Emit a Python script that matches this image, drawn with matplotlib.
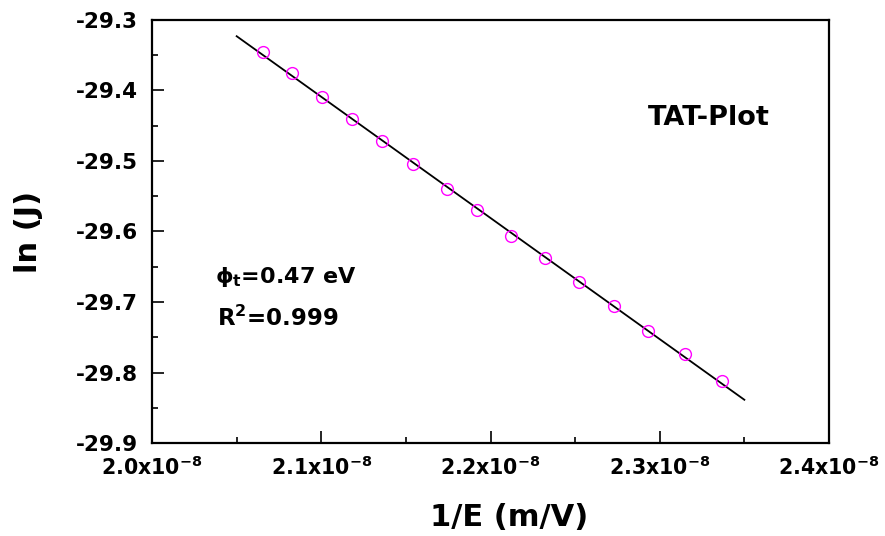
import numpy as np
import matplotlib.pyplot as plt
from matplotlib.ticker import MultipleLocator, FuncFormatter

plt.rcParams['font.family'] = 'DejaVu Sans'
plt.rcParams['font.weight'] = 'bold'
plt.rcParams['mathtext.fontset'] = 'dejavusans'

# datos (1/E en m/V, ln J)
inv_E = np.array([2.0657, 2.0828, 2.1006, 2.1183, 2.1360, 2.1540, 2.1740, 2.1920,
                  2.2120, 2.2320, 2.2520, 2.2730, 2.2930, 2.3150, 2.3370]) * 1e-8
ln_J = np.array([-29.345, -29.375, -29.409, -29.441, -29.472, -29.504, -29.540, -29.570,
                 -29.607, -29.638, -29.671, -29.706, -29.741, -29.774, -29.812])

# marcas de los ejes
x_ticks = [2.0, 2.1, 2.2, 2.3, 2.4]  # x 1e-8
y_ticks = [-29.9, -29.8, -29.7, -29.6, -29.5, -29.4, -29.3]

# ajuste lineal
m, c = np.polyfit(inv_E, ln_J, 1)
x_fit = np.linspace(2.05e-8, 2.35e-8, 50)

fig = plt.figure(figsize=(8.85, 5.36), dpi=100)
ax = fig.add_axes([0.1718, 0.1735, 0.7649, 0.7892])

ax.plot(x_fit, m * x_fit + c, color='black', lw=1.3)
ax.plot(inv_E, ln_J, 'o', mfc='none', mec='#ff00ff', ms=8.5, mew=1.0)

ax.set_xticks([t * 1e-8 for t in x_ticks])
ax.set_xticklabels([f'{t:.1f}x10$^{{\\mathbf{{-8}}}}$' for t in x_ticks])
ax.set_yticks(y_ticks)
ax.set_yticklabels([f'{t:.1f}' for t in y_ticks])
ax.xaxis.set_minor_locator(MultipleLocator(0.05e-8))
ax.yaxis.set_minor_locator(MultipleLocator(0.05))
ax.set_xlim(2.0e-8, 2.4e-8)
ax.set_ylim(-29.9, -29.3)

ax.tick_params(which='both', direction='in', width=1.2)
ax.tick_params(axis='y', which='major', length=8.5, pad=10, labelsize=15.5)
ax.tick_params(axis='x', which='major', length=8.5, pad=9, labelsize=14.8)
ax.tick_params(which='minor', length=4.3)
for s in ax.spines.values():
    s.set_linewidth(1.6)

ax.set_xlabel('1/E (m/V)', fontsize=22, fontweight='bold')
ax.xaxis.set_label_coords(0.527, -0.175, transform=ax.transAxes)
ax.xaxis.label.set_va('center')
ax.set_ylabel('ln (J)', fontsize=22, fontweight='bold', labelpad=24)

ax.text(0.733, 0.752, 'TAT-Plot', transform=ax.transAxes, fontsize=19.5,
        fontweight='bold', va='baseline')
ax.text(0.093, 0.378, r'ϕ$_{\mathbf{t}}$=0.47 eV', transform=ax.transAxes, fontsize=16, fontweight='bold')
ax.text(0.096, 0.278, r'R$^{\mathbf{2}}$=0.999', transform=ax.transAxes, fontsize=16.5, fontweight='bold')

plt.savefig('out.png', dpi=100)
